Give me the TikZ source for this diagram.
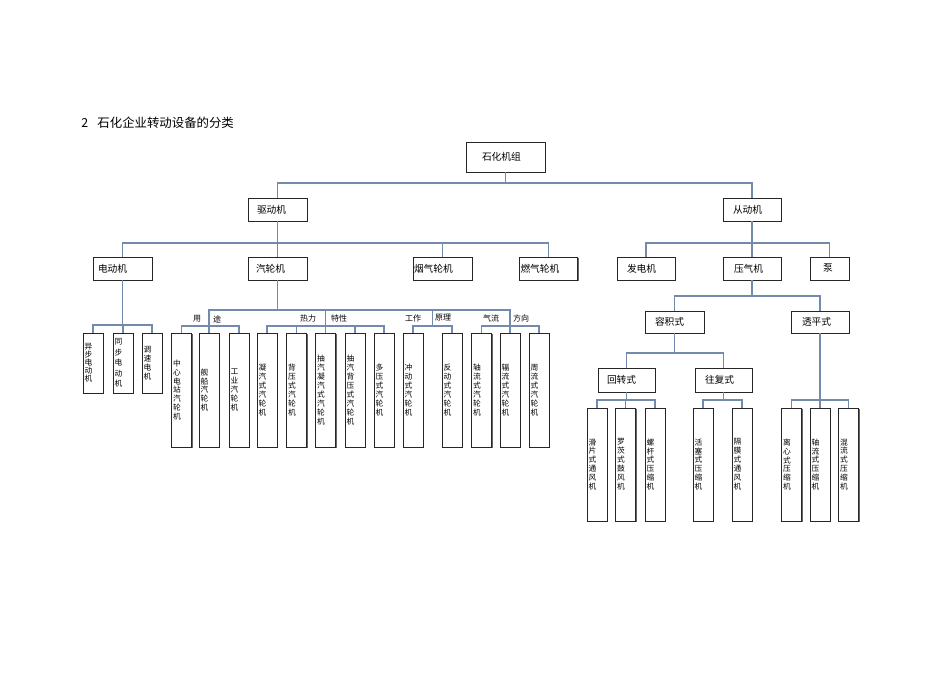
\documentclass[tikz,border=0pt]{standalone}
\usepackage{fontspec}
\newfontfamily\cjk{Noto Sans CJK SC}
\usetikzlibrary{shadows,calc}
\definecolor{conncol}{RGB}{115,138,172}
\begin{document}
\begin{tikzpicture}[x=0.75pt,y=-0.75pt,
  box/.style={draw=black!85, line width=0.7pt, fill=white,
    drop shadow={shadow xshift=0.8pt, shadow yshift=-0.8pt, opacity=0.6, fill=black},
    align=left, inner ysep=0pt, outer sep=0pt},
  tb/.style={box, font=\cjk\fontsize{7.3}{8}\selectfont, minimum height=17.25pt},
  leaf/.style={box, font=\cjk\fontsize{5.8}{6.7}\selectfont, minimum width=15pt, inner xsep=1.3pt, text width=12.4pt},
  conn/.style={draw=conncol, line width=0.85pt},
  lbl/.style={font=\cjk\fontsize{6}{7}\selectfont, inner sep=0pt},
]
\useasboundingbox (0,0) rectangle (950,672);

\node[font=\cjk\fontsize{9.3}{10}\selectfont, anchor=west, inner sep=0pt] (title) at (81,123) {2\hspace{7pt}石化企业转动设备的分类};

% upper boxes
\node[tb, minimum height=22.5pt, inner xsep=12pt, text width=35.25pt] (top) at (505.5,157) {石化机组};
\node[tb, inner xsep=6.75pt, text width=30.75pt] (qd) at (277.5,209.5) {驱动机};
\node[tb, inner xsep=7.5pt, text width=28.5pt] (cd) at (752,209.5) {从动机};
\node[tb, inner xsep=3.75pt, text width=36.75pt] (ddj) at (122.5,268.5) {电动机};
\node[tb, inner xsep=6pt, text width=32.25pt] (qlj) at (277.5,268.5) {汽轮机};
\node[tb, inner xsep=0.75pt, text width=42.75pt] (yq) at (442.5,268.5) {烟气轮机};
\node[tb, inner xsep=0.75pt, text width=42pt] (rq) at (548.5,268.5) {燃气轮机};
\node[tb, inner xsep=7.5pt, text width=28.5pt] (fdj) at (646,268.5) {发电机};
\node[tb, inner xsep=8.25pt, text width=27pt] (yqj) at (752,268.5) {压气机};
\node[tb, inner xsep=9.75pt, text width=9.75pt] (beng) at (829.5,268.5) {泵};
\node[tb, minimum height=16.5pt, inner xsep=7.5pt, text width=29.25pt] (rjs) at (674.5,322) {容积式};
\node[tb, minimum height=16.5pt, inner xsep=8.25pt, text width=27pt] (tps) at (820,322) {透平式};
\node[tb, minimum height=18pt, inner xsep=6.75pt, text width=29.25pt] (hzs) at (626.5,380) {回转式};
\node[tb, minimum height=18pt, inner xsep=7.5pt, text width=27.75pt] (wfs) at (723.5,380) {往复式};

% leaves under 电动机
\node[leaf, minimum height=45pt, font=\cjk\fontsize{5.8}{6}\selectfont] (a1) at (93,363) {异\\步\\电\\动\\机};
\node[leaf, minimum height=45pt, font=\cjk\fontsize{5.8}{7.8}\selectfont] (a2) at (123,363) {同\\步\\电\\动\\机};
\node[leaf, minimum height=45pt] (a3) at (152,363) {调\\速\\电\\机};

% leaves under 汽轮机
\node[leaf, minimum height=85.5pt] (b1) at (181.5,390) {中\\心\\电\\站\\汽\\轮\\机};
\node[leaf, minimum height=85.5pt] (b2) at (209,390) {舰\\船\\汽\\轮\\机};
\node[leaf, minimum height=85.5pt] (b3) at (239,390) {工\\业\\汽\\轮\\机};
\node[leaf, minimum height=85.5pt] (c1) at (267,390) {凝\\汽\\式\\汽\\轮\\机};
\node[leaf, minimum height=85.5pt] (c2) at (296.5,390) {背\\压\\式\\汽\\轮\\机};
\node[leaf, minimum height=85.5pt] (c3) at (325.5,390) {抽\\汽\\凝\\汽\\式\\汽\\轮\\机};
\node[leaf, minimum height=85.5pt] (c4) at (355,390) {抽\\汽\\背\\压\\式\\汽\\轮\\机};
\node[leaf, minimum height=85.5pt] (c5) at (384,390) {多\\压\\式\\汽\\轮\\机};
\node[leaf, minimum height=85.5pt] (d1) at (413,390) {冲\\动\\式\\汽\\轮\\机};
\node[leaf, minimum height=85.5pt] (d2) at (452,390) {反\\动\\式\\汽\\轮\\机};
\node[leaf, minimum height=85.5pt] (e1) at (481.5,390) {轴\\流\\式\\汽\\轮\\机};
\node[leaf, minimum height=85.5pt] (e2) at (510,390) {辐\\流\\式\\汽\\轮\\机};
\node[leaf, minimum height=85.5pt] (e3) at (539,390) {周\\流\\式\\汽\\轮\\机};

% leaves on the right
\node[leaf, minimum height=84.75pt] (f1) at (597,464.5) {滑\\片\\式\\通\\风\\机};
\node[leaf, minimum height=84.75pt] (f2) at (625.5,464.5) {罗\\茨\\式\\鼓\\风\\机};
\node[leaf, minimum height=84.75pt] (f3) at (655,464.5) {螺\\杆\\式\\压\\缩\\机};
\node[leaf, minimum height=84.75pt] (g1) at (703,464.5) {活\\塞\\式\\压\\缩\\机};
\node[leaf, minimum height=84.75pt] (g2) at (742,464.5) {隔\\膜\\式\\通\\风\\机};
\node[leaf, minimum height=84.75pt] (h1) at (791.5,464.5) {离\\心\\式\\压\\缩\\机};
\node[leaf, minimum height=84.75pt] (h2) at (820,464.5) {轴\\流\\式\\压\\缩\\机};
\node[leaf, minimum height=84.75pt] (h3) at (848.5,464.5) {混\\流\\式\\压\\缩\\机};

% group labels
\node[lbl] (l1) at (197,319) {用};
\node[lbl] (l2) at (217,319) {途};
\node[lbl] (l3) at (308,318) {热力};
\node[lbl] (l4) at (339,318) {特性};
\node[lbl] (l5) at (413,318) {工作};
\node[lbl] (l6) at (443,318) {原理};
\node[lbl] (l7) at (491,318) {气流};
\node[lbl] (l8) at (521,318) {方向};

% connectors
\foreach \c in {qd,cd} \draw[conn] (top.south) -- ++(0,11) -| (\c.north);
\foreach \c in {ddj,qlj,yq,rq} \draw[conn] (qd.south) -- ++(0,22) -| (\c.north);
\foreach \c in {fdj,yqj,beng} \draw[conn] (cd.south) -- ++(0,22) -| (\c.north);
\foreach \c in {a1,a2,a3} \draw[conn] (ddj.south) -- ++(0,45) -| (\c.north);
\foreach \c in {rjs,tps} \draw[conn] (yqj.south) -- ++(0,16) -| (\c.north);
\foreach \c in {hzs,wfs} \draw[conn] (rjs.south) -- ++(0,20) -| (\c.north);
\foreach \c in {f1,f2,f3} \draw[conn] (hzs.south) -- ++(0,8) -| (\c.north);
\foreach \c in {g1,g2} \draw[conn] (wfs.south) -- ++(0,8) -| (\c.north);
\foreach \c in {h1,h2,h3} \draw[conn] (tps.south) -- ++(0,67) -| (\c.north);

\coordinate (dmid) at ($(d1.north)!0.5!(d2.north)+(0,-7)$);
\foreach \c in {b2,c3,e2} \draw[conn] (qlj.south) -- ++(0,30) -| (\c.north);
\draw[conn] (qlj.south) -- ++(0,30) -| (dmid);
\draw[conn] (b1.north) -- ++(0,-7) -| (b3.north);
\draw[conn] (c1.north) -- ++(0,-7) -| (c5.north);
\draw[conn] (c2.north) -- ++(0,-7);
\draw[conn] (c4.north) -- ++(0,-7);
\draw[conn] (d1.north) -- ++(0,-7) -| (d2.north);
\draw[conn] (e1.north) -- ++(0,-7) -| (e3.north);
\end{tikzpicture}
\end{document}
